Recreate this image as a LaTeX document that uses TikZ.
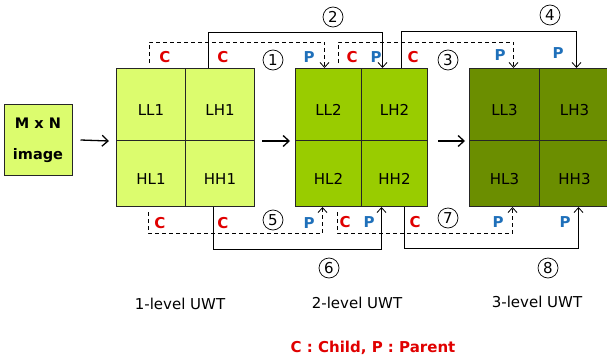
\documentclass[tikz,border=0pt]{standalone}
\usepackage{fontspec}
\setmainfont{DejaVu Sans}
\usetikzlibrary{arrows.meta}
\definecolor{lvA}{HTML}{DCFC6E}
\definecolor{lvB}{HTML}{99CC00}
\definecolor{lvC}{HTML}{6B8E00}
\definecolor{cred}{HTML}{E00000}
\definecolor{cblue}{HTML}{1F70BA}
\begin{document}
\begin{tikzpicture}[x=1pt,y=-1pt,
  quad/.style={draw=black!85, line width=1pt, anchor=north west, inner sep=0pt,
    text height=21pt, text depth=0pt, font=\fontsize{15}{15}\selectfont},
  lab/.style={font=\bfseries\fontsize{15}{15}\selectfont, inner sep=0pt},
  chi/.style={lab, text=cred},
  pnt/.style={lab, text=cblue},
  num/.style={circle, draw, line width=0.7pt, minimum size=20pt, inner sep=0pt,
    font=\fontsize{15}{15}\selectfont},
  conn/.style={-{Straight Barb[length=5pt,width=9pt]}, line width=0.8pt},
  dsh/.style={conn, dash pattern=on 4pt off 3pt},
  sol/.style={conn},
  mainarr/.style={-{Straight Barb[length=6pt,width=11pt]}, line width=1.3pt},
  lvl/.style={font=\fontsize{15}{15}\selectfont, inner sep=0pt}
]
\useasboundingbox (0,0) rectangle (607,361);

% input image
\node[draw=black!85, line width=1pt, fill=lvA, minimum width=68pt, minimum height=71pt,
  align=center, inner sep=0pt, font=\bfseries\fontsize{14.5}{31}\selectfont] (img) at (38,140) {M x N\\image};

% level 1
\node[quad, fill=lvA, minimum width=69pt, minimum height=72pt] (LL1) at (116,68) {LL1};
\node[quad, fill=lvA, minimum width=69pt, minimum height=72pt] (LH1) at (185,68) {LH1};
\node[quad, fill=lvA, minimum width=69pt, minimum height=66pt] (HL1) at (116,140) {HL1};
\node[quad, fill=lvA, minimum width=69pt, minimum height=66pt] (HH1) at (185,140) {HH1};
% level 2
\node[quad, fill=lvB, minimum width=66pt, minimum height=72pt] (LL2) at (295,68) {LL2};
\node[quad, fill=lvB, minimum width=66pt, minimum height=72pt] (LH2) at (361,68) {LH2};
\node[quad, fill=lvB, minimum width=66pt, minimum height=66pt] (HL2) at (295,140) {HL2};
\node[quad, fill=lvB, minimum width=66pt, minimum height=66pt] (HH2) at (361,140) {HH2};
% level 3
\node[quad, fill=lvC, minimum width=70pt, minimum height=72pt] (LL3) at (469,68) {LL3};
\node[quad, fill=lvC, minimum width=70pt, minimum height=72pt] (LH3) at (539,68) {LH3};
\node[quad, fill=lvC, minimum width=70pt, minimum height=66pt] (HL3) at (469,140) {HL3};
\node[quad, fill=lvC, minimum width=70pt, minimum height=66pt] (HH3) at (539,140) {HH3};

% main arrows
\draw[mainarr] ([xshift=8pt]img.east) -- ([xshift=-7pt]LL1.south west);
\draw[mainarr] ([xshift=7pt]LH1.south east) -- ([xshift=-5pt]LL2.south west);
\draw[mainarr] ([xshift=10pt]LH2.south east) -- ([xshift=-4pt]LL3.south west);

% top connectors
\coordinate (s1) at (149,63);
\coordinate (s3) at (338,63);
\draw[dsh] (s1) -- ++(0,-21) -| ([xshift=-4pt]LL2.north);
\draw[sol] ([xshift=-11.5pt]LH1.north) -- ++(0,-36) -| ([xshift=-12pt]LH2.north);
\draw[dsh] (s3) -- ++(0,-21) -| ([xshift=9pt]LL3.north);
\draw[sol] ([xshift=7pt]LH2.north) -- ++(0,-37) -| ([xshift=2pt]LH3.north);

% bottom connectors
\coordinate (s5) at (148,212);
\coordinate (s7) at (337,212);
\draw[dsh] (s5) -- ++(0,21) -| ([xshift=-6pt]HL2.south);
\draw[sol] ([xshift=-6.5pt]HH1.south) -- ++(0,42) -| ([xshift=-13pt]HH2.south);
\draw[dsh] (s7) -- ++(0,21) -| ([xshift=8pt]HL3.south);
\draw[sol] ([xshift=10pt]HH2.south) -- ++(0,41) -| ([xshift=4pt]HH3.south);

% top labels
\node[chi] (tc1) at (165,57) {C};
\node[chi] (tc2) at (223,57) {C};
\node[pnt] (tp1) at (309,57) {P};
\node[chi] (tc3) at (352,57) {C};
\node[pnt] (tp2) at (376,57) {P};
\node[chi] (tc4) at (413,57) {C};
\node[pnt] (tp3) at (500,55) {P};
\node[pnt] (tp4) at (558,53) {P};
\node[num] (n1) at (273,60) {1};
\node[num] (n2) at (333,17) {2};
\node[num] (n3) at (448,60) {3};
\node[num] (n4) at (550,15) {4};

% bottom labels
\node[chi] (bc1) at (160,223) {C};
\node[chi] (bc2) at (223,223) {C};
\node[pnt] (bp1) at (309,223) {P};
\node[chi] (bc3) at (345,222) {C};
\node[pnt] (bp2) at (369,222) {P};
\node[chi] (bc4) at (415,222) {C};
\node[pnt] (bp3) at (498,222) {P};
\node[pnt] (bp4) at (565,222) {P};
\node[num] (n5) at (273,220) {5};
\node[num] (n6) at (329,268) {6};
\node[num] (n7) at (448,218) {7};
\node[num] (n8) at (548,268) {8};

% captions
\node[lvl] (cap1) at (180,304) {1-level UWT};
\node[lvl] (cap2) at (357,303) {2-level UWT};
\node[lvl] (cap3) at (537,302) {3-level UWT};
\node[font=\bfseries\fontsize{15}{15}\selectfont, text=cred, inner sep=0pt] (legend) at (373,348) {C : Child, P : Parent};
\end{tikzpicture}
\end{document}
